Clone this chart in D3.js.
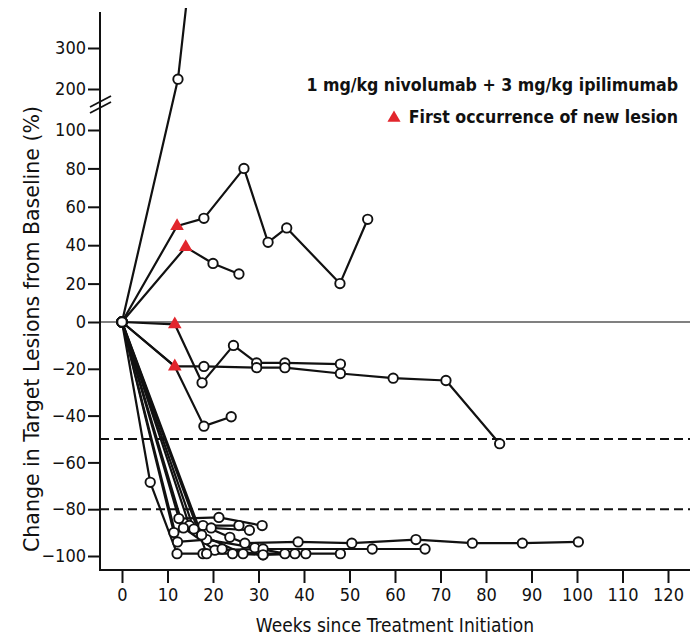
<!DOCTYPE html>
<html>
<head>
<meta charset="utf-8">
<script src="https://cdn.jsdelivr.net/npm/d3@7"></script>
<style>
  body { margin: 0; background: #fff; }
  svg text { font-family: "Liberation Sans Narrow", "DejaVu Sans Condensed", sans-serif; fill: #111; }
</style>
</head>
<body>
<svg id="chart" width="690" height="635"></svg>
<script>
// each patient: [week, % change from baseline]
const ptA = [[0, 0], [12.3, 224], [16, 590]];
const ptB = [[0, 0], [12.1, 50], [18, 54], [26.8, 80], [32.1, 41.5], [36.2, 49], [47.9, 20], [54, 53.5]];
const ptC = [[0, 0], [14, 39], [20, 30.5], [25.7, 25]];
const ptD = [[0, 0], [11.6, -1], [17.6, -26], [24.5, -10], [29.6, -17.5], [35.8, -17.5], [48, -18]];
const ptE = [[0, 0], [11.6, -19], [18, -19], [29.6, -19.5], [35.8, -19.5], [48, -22], [59.6, -24], [71.2, -25], [83, -52]];
const ptF = [[0, 0], [11.6, -19], [18, -44.5], [24, -40.5]];
const ptG = [[0, 0], [6.2, -68.5], [12.1, -99], [17.8, -99], [24.3, -99], [31, -99.5], [40.4, -99], [48, -99]];
const ptH = [[0, 0], [12.5, -84], [21.3, -83.5], [30.8, -87]];
const ptI = [[0, 0], [14.8, -87], [25.7, -87]];
const ptJ = [[0, 0], [11.4, -90], [17.8, -87], [23.7, -92], [27, -94.5], [38.7, -94], [50.5, -94.5], [64.6, -93], [77, -94.5], [88, -94.5], [100.3, -94]];
const ptK = [[0, 0], [12.2, -94], [18.6, -93], [29.2, -96.5], [35.8, -99]];
const ptL = [[0, 0], [17.5, -91], [26.6, -99], [38, -99]];
const ptM = [[0, 0], [13.5, -88], [20.4, -97.5], [31, -97], [55, -97], [66.6, -97]];
const ptN = [[0, 0], [18.6, -99], [22, -97], [31, -99.5]];
const ptO = [[0, 0], [15.8, -88.5], [19.6, -88], [28, -89]];

const patients = [ptA, ptB, ptC, ptD, ptE, ptF, ptG, ptH, ptI, ptJ, ptK, ptL, ptM, ptN, ptO];

// first occurrence of new lesion
const newLesion = [[12.1, 50], [14, 39], [11.6, -1], [11.6, -19]];

const xTicks = [0, 10, 20, 30, 40, 50, 60, 70, 80, 90, 100, 110, 120];
const yTicks = [-100, -80, -60, -40, -20, 0, 20, 40, 60, 80, 100, 200, 300];
const refLines = [-50, -80];

const svg = d3.select('#chart');
const padLeft = 100, padBottom = 570, padRight = 690, padTop = 12;

let x = d3.scaleLinear().domain([0, 120]).range([122, 668]);
// broken axis: lower part and compressed upper part
let y = d3.scaleLinear().domain([-100, 0, 100, 200, 300, 388]).range([556, 322, 130, 89, 48, 12]);

svg.append('clipPath').attr('id', 'plotclip')
    .append('rect').attr('x', padLeft).attr('y', 8).attr('width', padRight - padLeft).attr('height', padBottom - 8);

// zero line + reference lines
svg.append('line')
    .attr('x1', padLeft).attr('x2', padRight).attr('y1', y(0)).attr('y2', y(0))
    .attr('stroke', '#808080').attr('stroke-width', 2);

svg.selectAll('line.ref').data(refLines).enter().append('line')
    .attr('class', 'ref')
    .attr('x1', padLeft).attr('x2', padRight)
    .attr('y1', d => y(d)).attr('y2', d => y(d))
    .attr('stroke', '#111').attr('stroke-width', 2).attr('stroke-dasharray', '9,5');

// axes
let yAxis = svg.append('g').attr('transform', `translate(${padLeft},0)`)
    .call(d3.axisLeft(y).tickValues(yTicks).tickSize(12).tickPadding(2));
let xAxis = svg.append('g').attr('transform', `translate(0,${padBottom})`)
    .call(d3.axisBottom(x).tickValues(xTicks).tickSize(13).tickPadding(5));

[yAxis, xAxis].forEach(a => {
    a.select('.domain').remove();
    a.selectAll('line').attr('stroke', '#111').attr('stroke-width', 2);
    a.selectAll('text').style('font-size', '18px').attr('fill', '#111');
});

svg.append('line').attr('x1', padLeft).attr('x2', padLeft).attr('y1', padTop).attr('y2', padBottom + 1)
    .attr('stroke', '#111').attr('stroke-width', 2);
svg.append('line').attr('x1', padLeft - 1).attr('x2', padRight).attr('y1', padBottom).attr('y2', padBottom)
    .attr('stroke', '#111').attr('stroke-width', 2);

// break marks
[0, 6].forEach(off => {
    svg.append('line')
        .attr('x1', padLeft - 10).attr('y1', 113 - off)
        .attr('x2', padLeft + 11).attr('y2', 102 - off)
        .attr('stroke', '#111').attr('stroke-width', 1.8);
});

// patient lines
let line = d3.line().x(d => x(d[0])).y(d => y(d[1]));
let plot = svg.append('g').attr('clip-path', 'url(#plotclip)');

plot.selectAll('path.pt').data(patients).enter().append('path')
    .attr('class', 'pt')
    .attr('d', line)
    .attr('fill', 'none').attr('stroke', '#111').attr('stroke-width', 2.2)
    .attr('stroke-linejoin', 'round');

let isLesion = d => newLesion.some(t => t[0] === d[0] && t[1] === d[1]);
let pts = patients.flatMap(p => p).filter(d => !isLesion(d) && y(d[1]) > 12);

plot.selectAll('circle').data(pts).enter().append('circle')
    .attr('cx', d => x(d[0])).attr('cy', d => y(d[1])).attr('r', 4.7)
    .attr('fill', '#fff').attr('stroke', '#111').attr('stroke-width', 1.9);

let tri = d3.symbol().type(d3.symbolTriangle).size(80);
plot.selectAll('path.tri').data(newLesion).enter().append('path')
    .attr('class', 'tri')
    .attr('d', tri)
    .attr('transform', d => `translate(${x(d[0])},${y(d[1])})`)
    .attr('fill', '#e2262d');

// legend
svg.append('text').attr('x', 678).attr('y', 91).attr('text-anchor', 'end')
    .style('font-size', '17.6px').style('font-weight', 'bold')
    .text('1 mg/kg nivolumab + 3 mg/kg ipilimumab');
svg.append('path').attr('d', d3.symbol().type(d3.symbolTriangle).size(75))
    .attr('transform', 'translate(394,118)').attr('fill', '#e2262d');
svg.append('text').attr('x', 678).attr('y', 123).attr('text-anchor', 'end')
    .style('font-size', '17.6px').style('font-weight', 'bold')
    .text('First occurrence of new lesion');

// axis titles
svg.append('text').attr('x', 395).attr('y', 632).attr('text-anchor', 'middle')
    .style('font-size', '19px')
    .text('Weeks since Treatment Initiation');
svg.append('text').attr('transform', 'translate(39,329) rotate(-90)').attr('text-anchor', 'middle')
    .attr('textLength', 446).attr('lengthAdjust', 'spacingAndGlyphs')
    .style('font-size', '21px')
    .text('Change in Target Lesions from Baseline (%)');
</script>
</body>
</html>
